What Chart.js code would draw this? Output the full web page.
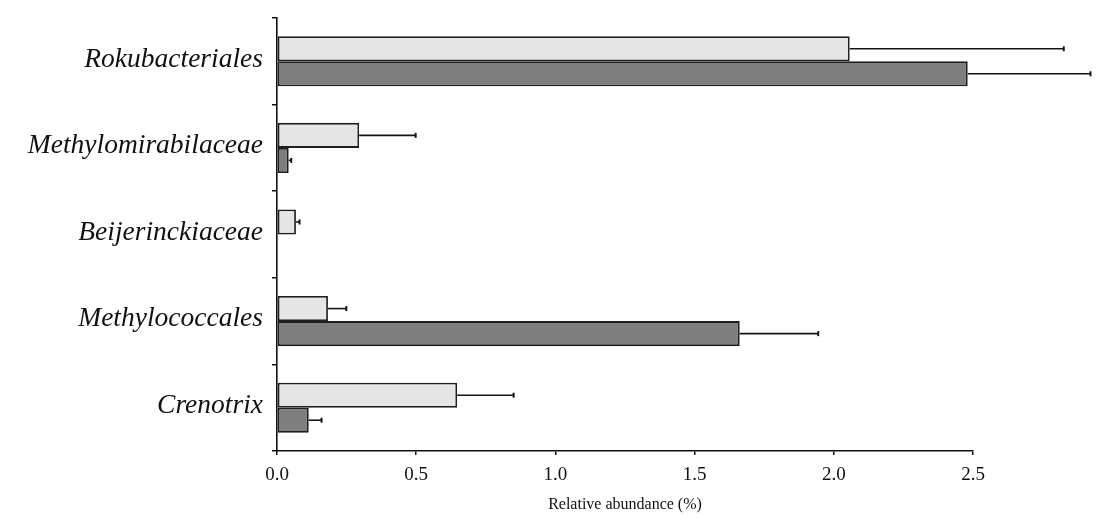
<!DOCTYPE html>
<html lang="en">
<head>
    <meta charset="UTF-8">
    <title>Relative abundance</title>
    <style>
        body {
            margin: 0;
            background-color: white;
        }
        .wrap {
            width: 1105px;
            height: 527px;
            position: relative;
        }
    </style>
</head>
<body>
    <div class="wrap">
        <canvas id="chart"></canvas>
    </div>

    <script src="https://cdn.jsdelivr.net/npm/chart.js"></script>
    <script>
        // taxa, top to bottom
        const taxa = ['Rokubacteriales', 'Methylomirabilaceae', 'Beijerinckiaceae', 'Methylococcales', 'Crenotrix'];

        // light grey series (mean and error)
        const lightMean = [2.057, 0.295, 0.068, 0.183, 0.647];
        const lightErr = [0.769, 0.203, 0.013, 0.066, 0.203];

        // dark grey series (mean and error)
        const darkMean = [2.481, 0.042, 0, 1.662, 0.114];
        const darkErr = [0.441, 0.009, 0, 0.282, 0.046];

        const xTicks = [0, 0.5, 1.0, 1.5, 2.0, 2.5];

        const errorBars = {
            id: 'errorBars',
            afterDatasetsDraw(chart) {
                const c = chart.ctx;
                const xs = chart.scales.x;
                c.save();
                c.strokeStyle = '#151515';
                chart.data.datasets.forEach((ds, i) => {
                    const meta = chart.getDatasetMeta(i);
                    meta.data.forEach((bar, j) => {
                        const e = ds.errors[j];
                        if (!e) return;
                        const x2 = xs.getPixelForValue(ds.data[j] + e);
                        c.lineWidth = 1.6;
                        c.beginPath();
                        c.moveTo(bar.x, bar.y);
                        c.lineTo(x2, bar.y);
                        c.stroke();
                        c.lineWidth = 2;
                        c.beginPath();
                        c.moveTo(x2, bar.y - 2.5);
                        c.lineTo(x2, bar.y + 2.5);
                        c.stroke();
                    });
                });
                c.restore();
            }
        };

        const ctx = document.getElementById('chart').getContext('2d');
        new Chart(ctx, {
            type: 'bar',
            data: {
                labels: taxa,
                datasets: [
                    {
                        data: lightMean,
                        errors: lightErr,
                        backgroundColor: '#e5e5e5',
                        borderColor: '#1e1e1e',
                        borderWidth: 1.8,
                        borderSkipped: false
                    },
                    {
                        data: darkMean,
                        errors: darkErr,
                        backgroundColor: '#7e7e7e',
                        borderColor: '#1e1e1e',
                        borderWidth: 1.8,
                        borderSkipped: false
                    }
                ]
            },
            options: {
                indexAxis: 'y',
                responsive: true,
                maintainAspectRatio: false,
                animation: false,
                datasets: {
                    bar: { categoryPercentage: 0.578, barPercentage: 1.0 }
                },
                layout: { padding: { top: 18, right: 132, bottom: 0, left: 0 } },
                plugins: {
                    legend: { display: false },
                    tooltip: { enabled: false }
                },
                scales: {
                    x: {
                        min: 0,
                        max: 2.5,
                        afterBuildTicks: (s) => { s.ticks = xTicks.map(v => ({ value: v })); },
                        afterFit: (s) => { s.height = 76; s.paddingLeft = 0; s.paddingRight = 0; },
                        ticks: {
                            color: '#111',
                            padding: 9,
                            maxRotation: 0,
                            font: { family: 'Liberation Serif', size: 19 },
                            callback: (v) => Number(v).toFixed(1)
                        },
                        grid: { drawOnChartArea: false, tickLength: 4, color: '#111', lineWidth: 1.5 },
                        border: { color: '#111', width: 1.6 },
                        title: {
                            display: true,
                            text: 'Relative abundance (%)',
                            color: '#111',
                            font: { family: 'Liberation Serif', size: 16 },
                            padding: { top: 4, bottom: 13 }
                        }
                    },
                    y: {
                        afterFit: (s) => { s.width = 277; s.paddingTop = 0; s.paddingBottom = 0; },
                        ticks: {
                            color: '#111',
                            padding: 9,
                            labelOffset: -2,
                            font: { family: 'Liberation Serif', size: 27.5, style: 'italic' }
                        },
                        grid: { offset: true, drawOnChartArea: false, tickLength: 5, color: '#111', lineWidth: 1.5 },
                        border: { color: '#111', width: 1.6 }
                    }
                }
            },
            plugins: [errorBars]
        });
    </script>
</body>
</html>
